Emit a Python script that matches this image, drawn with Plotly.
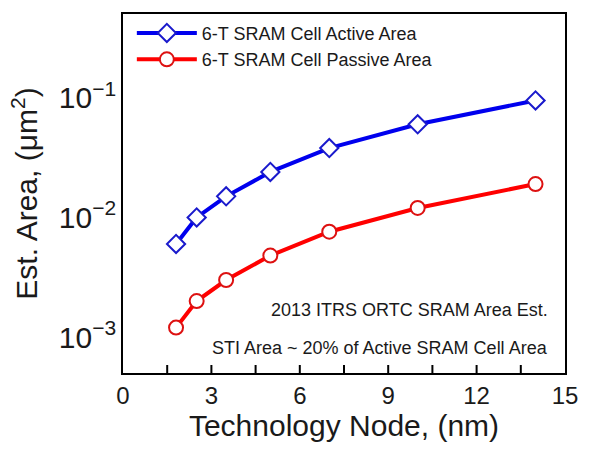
import math
import plotly.graph_objects as go

nodes = [1.8, 2.5, 3.5, 5, 7, 10, 14]
active_area = [0.006, 0.010, 0.015, 0.024, 0.038, 0.060, 0.095]
passive_area = [0.0012, 0.002, 0.003, 0.0048, 0.0076, 0.012, 0.019]
names = ["6-T SRAM Cell Active Area", "6-T SRAM Cell Passive Area"]
notes = ["2013 ITRS ORTC SRAM Area Est.", "STI Area ~ 20% of Active SRAM Cell Area"]
x_major = [0, 3, 6, 9, 12, 15]
x_minor = [1.5, 4.5, 7.5, 10.5, 13.5]
y_major = [0.001, 0.01, 0.1]
y_minor = [m * d for d in (0.0001, 0.001, 0.01, 0.1) for m in range(2, 10)]

FONT = "Liberation Sans, Arial, sans-serif"
TXT = "#1a1a1a"
X_RANGE = [0, 15]
Y_RANGE = [-3.3, -0.3]

fig = go.Figure()
fig.add_trace(go.Scatter(
    x=nodes, y=active_area, name=names[0], mode="lines+markers",
    line=dict(color="#0000ee", width=4),
    marker=dict(symbol="diamond", size=14, color="white", line=dict(color="#1a1acc", width=2)),
))
fig.add_trace(go.Scatter(
    x=nodes, y=passive_area, name=names[1], mode="lines+markers",
    line=dict(color="#ff0000", width=4),
    marker=dict(symbol="circle", size=14, color="white", line=dict(color="#dd1111", width=2)),
))

fig.update_layout(
    width=590, height=449,
    margin=dict(l=123, r=17, t=13, b=76),
    paper_bgcolor="white", plot_bgcolor="white",
    font=dict(family=FONT, color=TXT),
    showlegend=True,
    legend=dict(x=0.02, y=0.998, xanchor="left", yanchor="top", itemwidth=60,
                bgcolor="rgba(0,0,0,0)", font=dict(size=18, family=FONT, color=TXT),
                tracegroupgap=0),
    xaxis=dict(
        range=X_RANGE, tickvals=x_major, ticks="",
        showline=True, linecolor="black", linewidth=2, mirror=True,
        showgrid=False, zeroline=False,
        tickfont=dict(size=24, family=FONT, color=TXT),
        title=dict(text="Technology Node, (nm)", font=dict(size=30, family=FONT, color=TXT), standoff=4),
    ),
    yaxis=dict(
        type="log", range=Y_RANGE, dtick=1, exponentformat="power", ticks="",
        showline=True, linecolor="black", linewidth=2, mirror=True,
        showgrid=False, zeroline=False,
        tickfont=dict(size=24, family=FONT, color=TXT),
        title=dict(text="Est. Area, (μm<sup>2</sup>)", font=dict(size=30, family=FONT, color=TXT), standoff=12),
    ),
)

# inward-pointing tick marks, placed from the tick value lists
def xtick(v, length, width):
    fig.add_shape(type="line", xref="x", yref="paper", ysizemode="pixel", yanchor=0,
                  x0=v, x1=v, y0=0, y1=length, layer="above",
                  line=dict(color="black", width=width))

def ytick(v, length, width):
    lv = math.log10(v)
    if Y_RANGE[0] <= lv <= Y_RANGE[1]:
        fig.add_shape(type="line", xref="paper", yref="y", xsizemode="pixel", xanchor=0,
                      x0=0, x1=length, y0=lv, y1=lv, layer="above",
                      line=dict(color="black", width=width))

for v in x_major[1:-1]:
    xtick(v, 8, 2)
for v in x_minor:
    xtick(v, 8, 2)
for v in y_major:
    ytick(v, 8, 2)
for v in y_minor:
    ytick(v, 5, 1.5)

fig.add_annotation(x=0.965, y=0.175, xref="paper", yref="paper", xanchor="right", yanchor="middle",
                   text=notes[0], showarrow=False, font=dict(size=18, family=FONT, color=TXT))
fig.add_annotation(x=0.965, y=0.069, xref="paper", yref="paper", xanchor="right", yanchor="middle",
                   text=notes[1], showarrow=False, font=dict(size=18, family=FONT, color=TXT))

fig.write_html("out.html")
